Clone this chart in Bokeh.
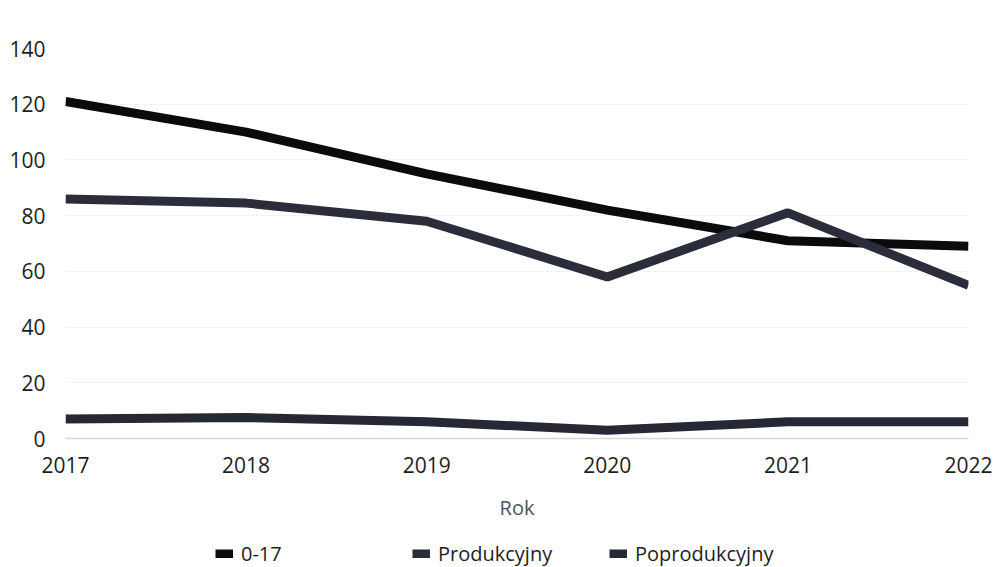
from bokeh.plotting import figure
from bokeh.models import ColumnDataSource, Legend, LegendItem, Range1d, FixedTicker
from bokeh.layouts import column
from bokeh.embed import file_html
from bokeh.resources import INLINE

years = [2017, 2018, 2019, 2020, 2021, 2022]
s_0_17 = [121, 110, 95, 82, 71, 69]
s_prod = [86, 84.5, 78, 58, 81, 55]
s_poprod = [7, 7.5, 6, 3, 6, 6]
y_ticks = [0, 20, 40, 60, 80, 100, 120, 140]

series_names = ["0-17", "Produkcyjny", "Poprodukcyjny"]
series_colors = ["#0b0b0d", "#2b2d3b", "#262836"]

FONT = "Open Sans"

p = figure(width=995, height=525, output_backend="svg", toolbar_location=None,
           x_range=Range1d(2017, 2022), y_range=Range1d(0, 140),
           min_border_left=65, min_border_right=27, min_border_top=48,
           min_border_bottom=87)
p.outline_line_color = None
p.background_fill_color = "white"

src = ColumnDataSource(dict(x=years, a=s_0_17, b=s_prod, c=s_poprod))
for col, color in zip(["a", "b", "c"], series_colors):
    p.line("x", col, source=src, line_color=color, line_width=9)

# axes
p.xaxis.ticker = FixedTicker(ticks=years)
p.yaxis.ticker = FixedTicker(ticks=y_ticks)
for ax in (p.xaxis[0], p.yaxis[0]):
    ax.major_tick_line_color = None
    ax.minor_tick_line_color = None
    ax.major_label_text_font = FONT
    ax.major_label_text_font_size = "21px"
    ax.major_label_text_color = "#1e1e22"
p.yaxis.axis_line_color = None
p.xaxis.axis_line_color = "#d8d8d8"
p.xaxis.axis_line_width = 1.5
p.yaxis.major_label_standoff = 14
p.xaxis.major_label_standoff = 12
p.xaxis.axis_label = "Rok"
p.xaxis.axis_label_text_font = FONT
p.xaxis.axis_label_text_font_size = "20px"
p.xaxis.axis_label_text_font_style = "normal"
p.xaxis.axis_label_text_color = "#4d525c"
p.xaxis.axis_label_standoff = 18

p.xgrid.grid_line_color = None
p.ygrid.grid_line_color = "#f3f3f3"
p.ygrid.grid_line_width = 1

# legend strip below the chart (swatch renderers lie outside its visible range)
lg = figure(width=995, height=42, output_backend="svg", toolbar_location=None,
            x_axis_type=None, y_axis_type=None,
            x_range=Range1d(0, 1), y_range=Range1d(0, 1),
            min_border_left=0, min_border_right=0, min_border_top=0, min_border_bottom=0)
lg.outline_line_color = None
lg.xgrid.visible = False
lg.ygrid.visible = False
swatches = []
for color in series_colors:
    swatches.append(lg.line(x=[5, 6], y=[5, 6], line_color=color, line_width=9))

legend = Legend(items=[LegendItem(label=n, renderers=[r]) for n, r in zip(series_names, swatches)],
                orientation="horizontal", location=(150, 0))
legend.label_text_font = FONT
legend.label_text_font_size = "20px"
legend.label_text_color = "#1e1e22"
legend.glyph_width = 18
legend.glyph_height = 9
legend.label_standoff = 8
legend.label_width = 171
legend.label_height = 22
legend.spacing = 0
legend.padding = 0
legend.margin = 0
legend.border_line_color = None
legend.background_fill_alpha = 0
lg.add_layout(legend, "center")

layout = column(p, lg, spacing=0)
open("out.html", "w").write(file_html(layout, INLINE))
